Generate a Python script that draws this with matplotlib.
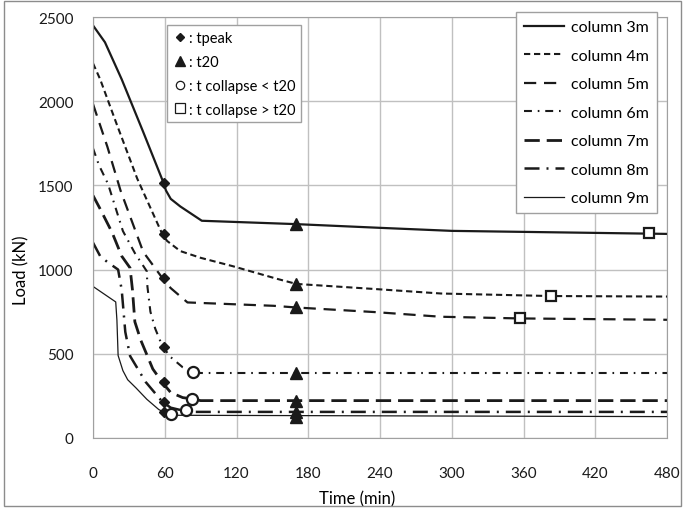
import matplotlib.pyplot as plt
from matplotlib.lines import Line2D
from matplotlib.patches import Rectangle

plt.rcParams['font.family'] = ['Lato', 'DejaVu Sans']

# load (kN) vs time (min) for each column length
t_3m = [0, 10, 24, 42, 59, 61, 65, 73, 91, 170, 240, 300, 400, 480]
load_3m = [2450, 2350, 2130, 1817, 1515, 1470, 1420, 1375, 1290, 1270, 1248, 1230, 1220, 1212]

t_4m = [0, 6, 20, 37, 58, 62, 73, 90, 117, 154, 170, 235, 291, 383, 480]
load_4m = [2225, 2130, 1860, 1540, 1210, 1170, 1110, 1070, 1020, 945, 915, 885, 858, 843, 840]

t_5m = [0, 12, 23, 42, 58, 65, 79, 151, 170, 235, 291, 357, 480]
load_5m = [1983, 1730, 1470, 1105, 950, 890, 805, 785, 775, 748, 720, 710, 702]

t_6m = [0, 5, 12.6, 25, 35, 45, 45.5, 48, 52, 58, 65, 75, 84, 90, 480]
load_6m = [1720, 1620, 1508, 1229, 1098, 990, 900, 750, 650, 545, 480, 420, 390, 386, 386]

t_7m = [0, 6, 16, 24, 31, 33, 35, 40, 50, 58, 65, 75, 83, 90, 480]
load_7m = [1440, 1360, 1220, 1080, 1010, 880, 690, 580, 410, 330, 270, 240, 232, 222, 222]

t_8m = [0, 6, 12, 21, 24, 27, 31, 44, 58, 65, 72, 78, 85, 480]
load_8m = [1160, 1080, 1045, 1000, 880, 630, 487, 333, 215, 180, 168, 165, 155, 155]

t_9m = [0, 19, 20, 21, 25, 29, 36, 45, 55, 59, 66, 480]
load_9m = [900, 808, 700, 490, 400, 346, 297, 230, 169, 155, 135, 127]

# characteristic points
t_peak = [59, 59, 59, 59, 59, 59, 59]
load_peak = [1515, 1210, 950, 540, 330, 215, 155]
t_t20 = [170, 170, 170, 170, 170, 170, 170]
load_t20 = [1270, 915, 775, 386, 222, 155, 127]
t_coll_lt = [84, 83, 78, 65]
load_coll_lt = [390, 232, 166, 140]
t_coll_gt = [465, 383, 357]
load_coll_gt = [1215, 843, 710]

fig = plt.figure(figsize=(6.85, 5.10), dpi=100)
ax = fig.add_axes([93 / 685, 1 - 439 / 510, 574 / 685, 421 / 510])

fig.patches.append(Rectangle((0.006, 0.006), 0.988, 0.99, transform=fig.transFigure,
                             fill=False, edgecolor='#8c8c8c', lw=1.0))

series = [
    (t_3m, load_3m, 'column 3m', dict(ls='-', lw=1.6)),
    (t_4m, load_4m, 'column 4m', dict(ls=(0, (3, 1.8)), lw=1.5)),
    (t_5m, load_5m, 'column 5m', dict(ls=(0, (5.5, 3.5)), lw=1.6)),
    (t_6m, load_6m, 'column 6m', dict(ls=(0, (3.8, 2.8, 0.8, 2.8)), lw=1.5)),
    (t_7m, load_7m, 'column 7m', dict(ls=(0, (5.5, 2.5)), lw=2.0)),
    (t_8m, load_8m, 'column 8m', dict(ls=(0, (6, 2.8, 0.8, 2.8)), lw=1.8)),
    (t_9m, load_9m, 'column 9m', dict(ls='-', lw=0.9)),
]
for t, load, name, style in series:
    ax.plot(t, load, color='#1a1a1a', label=name, **style)

ax.plot(t_peak, load_peak, ls='none', marker='D', ms=5.5, color='#1a1a1a', zorder=5)
ax.plot(t_t20, load_t20, ls='none', marker='^', ms=8, color='#1a1a1a', zorder=5)
ax.plot(t_coll_lt, load_coll_lt, ls='none', marker='o', ms=8, mfc='white',
        mec='#1a1a1a', mew=1.6, zorder=6)
ax.plot(t_coll_gt, load_coll_gt, ls='none', marker='s', ms=7, mfc='white',
        mec='#1a1a1a', mew=1.6, zorder=6)

ax.set_xlim(0, 480)
ax.set_ylim(0, 2500)
ax.set_xticks(range(0, 481, 60))
ax.set_yticks(range(0, 2501, 500))
ax.grid(True, color='#c0c0c0', lw=1.0)
ax.set_axisbelow(True)
for s in ax.spines.values():
    s.set_color('#a0a0a0')
ax.tick_params(length=0, labelsize=11, colors='#1a1a1a')
ax.tick_params(axis='x', pad=20)
ax.tick_params(axis='y', pad=14)
ax.set_xlabel('Time (min)', fontsize=12)
ax.set_ylabel('Load (kN)', fontsize=12)
ax.xaxis.set_label_coords(0.46, -0.125)
ax.yaxis.set_label_coords(-0.111, 0.4)

leg = ax.legend(loc='upper right', bbox_to_anchor=(0.983, 1.012), borderaxespad=0,
                fontsize=11.5, handlelength=2.5, labelspacing=0.9, fancybox=False,
                framealpha=1, edgecolor='#a0a0a0', handletextpad=0.45, borderpad=0.5)
ax.add_artist(leg)

mk_handles = [
    Line2D([], [], ls='none', marker='D', ms=4.5, color='#1a1a1a'),
    Line2D([], [], ls='none', marker='^', ms=7.5, color='#1a1a1a'),
    Line2D([], [], ls='none', marker='o', ms=6, mfc='white', mec='#1a1a1a', mew=0.9),
    Line2D([], [], ls='none', marker='s', ms=6.5, mfc='white', mec='#1a1a1a', mew=0.9),
]
mk_labels = [': tpeak', ': t20', ': t collapse < t20', ': t collapse > t20']
ax.legend(mk_handles, mk_labels, loc='upper left', bbox_to_anchor=(0.129, 0.981),
          borderaxespad=0, fontsize=10.5, handlelength=1.0, handletextpad=0.1,
          labelspacing=0.68, fancybox=False, framealpha=1, edgecolor='#a0a0a0')

fig.savefig('out.png', dpi=100)
